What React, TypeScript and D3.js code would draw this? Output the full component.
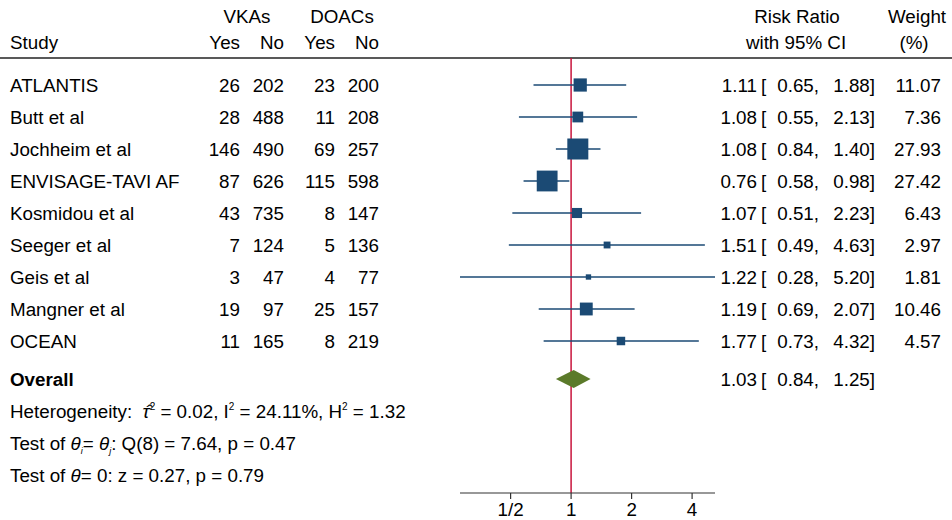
import React from 'react';
import * as d3 from 'd3';

const studies = ['ATLANTIS', 'Butt et al', 'Jochheim et al', 'ENVISAGE-TAVI AF', 'Kosmidou et al', 'Seeger et al', 'Geis et al', 'Mangner et al', 'OCEAN'];
const vkaYes = [26, 28, 146, 87, 43, 7, 3, 19, 11];
const vkaNo = [202, 488, 490, 626, 735, 124, 47, 97, 165];
const doacYes = [23, 11, 69, 115, 8, 5, 4, 25, 8];
const doacNo = [200, 208, 257, 598, 147, 136, 77, 157, 219];
const rr = [1.11, 1.08, 1.08, 0.76, 1.07, 1.51, 1.22, 1.19, 1.77];
const lower = [0.65, 0.55, 0.84, 0.58, 0.51, 0.49, 0.28, 0.69, 0.73];
const upper = [1.88, 2.13, 1.40, 0.98, 2.23, 4.63, 5.20, 2.07, 4.32];
const weights = [11.07, 7.36, 27.93, 27.42, 6.43, 2.97, 1.81, 10.46, 4.57];
const overall = { rr: 1.03, lower: 0.84, upper: 1.25 };
const tickValues = [0.5, 1, 2, 4];
const tickLabels = ['1/2', '1', '2', '4'];

const FONT = '"Liberation Sans", Arial, sans-serif';
const FS = 18.8;
const NAVY = '#1b4a74';
const RED = '#c8143c';
const GREEN = '#5b7a2a';

export default function App() {
  const width = 952;
  const height = 520;

  const x = d3.scaleLog().base(2).domain([0.28, 5.2]).range([460, 715]);
  const y = d3.scaleLinear().domain([0, 1]).range([85, 117]);
  const size = d3.scaleSqrt().domain([0, d3.max(weights) as number]).range([0, 21]);
  const fmt = d3.format('.2f');

  const overallY = 379;
  const axisY = 493;

  const colRight = [240, 284, 335, 379];
  const counts = [vkaYes, vkaNo, doacYes, doacNo];

  const ciText = (r: number, lo: number, hi: number, cy: number, key: string) => (
    <g key={key}>
      <text x={757} y={cy + 7} textAnchor="end">{fmt(r)}</text>
      <text x={761} y={cy + 7}>[</text>
      <text x={819} y={cy + 7} textAnchor="end">{fmt(lo)},</text>
      <text x={875} y={cy + 7} textAnchor="end">{fmt(hi)}]</text>
    </g>
  );

  const diamond = [
    [x(overall.lower), overallY],
    [x(overall.rr), overallY - 9],
    [x(overall.upper), overallY],
    [x(overall.rr), overallY + 9],
  ];

  return (
    <svg
      width={width}
      height={height}
      style={{ position: 'absolute', left: 0, top: 0, background: '#fff' }}
      fontFamily={FONT}
      fontSize={FS}
      fill="#000"
    >
      {/* header */}
      <text x={247} y={23} textAnchor="middle">VKAs</text>
      <text x={342} y={23} textAnchor="middle">DOACs</text>
      <text x={10} y={49}>Study</text>
      {['Yes', 'No', 'Yes', 'No'].map((h, i) => (
        <text key={'h' + i} x={colRight[i]} y={49} textAnchor="end">{h}</text>
      ))}
      <text x={797} y={23} textAnchor="middle">Risk Ratio</text>
      <text x={796} y={49} textAnchor="middle">with 95% CI</text>
      <text x={917} y={23} textAnchor="middle">Weight</text>
      <text x={914} y={49} textAnchor="middle">(%)</text>
      <line x1={0} x2={width} y1={58} y2={58} stroke="#222" strokeWidth={1.5} />

      {/* null line */}
      <line x1={x(1)} x2={x(1)} y1={58} y2={axisY} stroke={RED} strokeWidth={1.5} />

      {/* study rows */}
      {studies.map((s, i) => {
        const cy = y(i);
        const sz = size(weights[i]);
        return (
          <g key={s}>
            <text x={10} y={cy + 7}>{s}</text>
            {counts.map((c, j) => (
              <text key={j} x={colRight[j]} y={cy + 7} textAnchor="end">{c[i]}</text>
            ))}
            <line x1={x(lower[i])} x2={x(upper[i])} y1={cy} y2={cy} stroke={NAVY} strokeWidth={1.6} />
            <rect x={x(rr[i]) - sz / 2} y={cy - sz / 2} width={sz} height={sz} fill={NAVY} />
            {ciText(rr[i], lower[i], upper[i], cy, 'ci' + i)}
            <text x={941} y={cy + 7} textAnchor="end">{fmt(weights[i])}</text>
          </g>
        );
      })}

      {/* overall */}
      <text x={10} y={overallY + 7} fontWeight="bold">Overall</text>
      <polygon points={diamond.map(p => p.join(',')).join(' ')} fill={GREEN} />
      {ciText(overall.rr, overall.lower, overall.upper, overallY, 'ov')}

      <text x={10} y={418}>
        Heterogeneity:{'\u00a0\u00a0'}
        <tspan fontStyle="italic">τ̂</tspan>
        <tspan dy={-8} fontSize={10}>2</tspan>
        <tspan dy={8}> = 0.02, I</tspan>
        <tspan dy={-8} fontSize={10}>2</tspan>
        <tspan dy={8}> = 24.11%, H</tspan>
        <tspan dy={-8} fontSize={10}>2</tspan>
        <tspan dy={8}> = 1.32</tspan>
      </text>
      <text x={10} y={450}>
        Test of <tspan fontStyle="italic">θ</tspan>
        <tspan dy={4} fontSize={9} fontStyle="italic">i</tspan>
        <tspan dy={-4}>= </tspan>
        <tspan fontStyle="italic">θ</tspan>
        <tspan dy={4} fontSize={9} fontStyle="italic">j</tspan>
        <tspan dy={-4}>: Q(8) = 7.64, p = 0.47</tspan>
      </text>
      <text x={10} y={482}>
        Test of <tspan fontStyle="italic">θ</tspan>= 0: z = 0.27, p = 0.79
      </text>

      {/* axis */}
      <line x1={x.range()[0]} x2={x.range()[1]} y1={axisY} y2={axisY} stroke="#333" strokeWidth={1.2} />
      {tickValues.map((t, i) => (
        <g key={'t' + i}>
          <line x1={x(t)} x2={x(t)} y1={axisY} y2={axisY + 6} stroke="#333" strokeWidth={1.2} />
          <text x={x(t)} y={axisY + 23} textAnchor="middle">{tickLabels[i]}</text>
        </g>
      ))}
    </svg>
  );
}
